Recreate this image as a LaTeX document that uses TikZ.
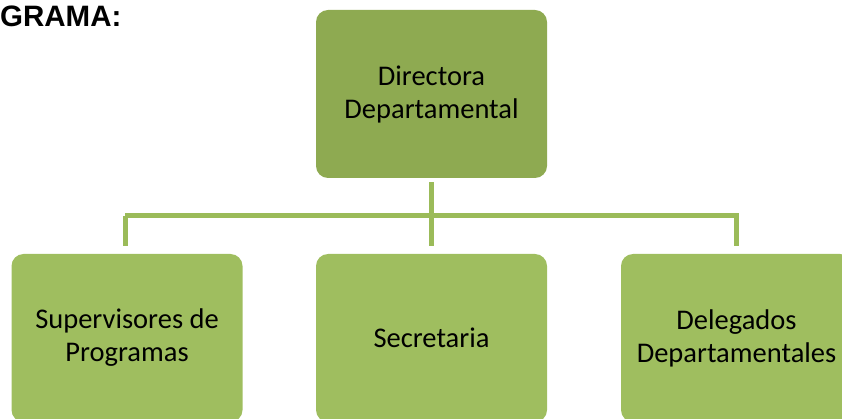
\documentclass[tikz,border=0pt]{standalone}
\usepackage{fontspec}
\setmainfont{Carlito}
\newfontfamily\titlefont{Liberation Sans}
\definecolor{topgreen}{HTML}{8EAA51}
\definecolor{boxgreen}{HTML}{9FBE5F}
\definecolor{linegreen}{HTML}{9BBB59}
\begin{document}
\begin{tikzpicture}[x=1pt,y=-1pt,
  orgbox/.style={rectangle, rounded corners=12pt, minimum width=231pt, minimum height=168pt, inner sep=0pt, align=center, font=\fontsize{28.5}{33}\selectfont, text=black},
  conn/.style={draw=linegreen, line width=5pt}]
\useasboundingbox (0,0) rectangle (842,419);
\node[anchor=base west, font=\titlefont\bfseries\fontsize{29.5}{31}\selectfont, inner sep=0pt] (title) at (0,26.5) {GRAMA:};
\node[orgbox, fill=topgreen] (dir) at (431.5,94) {Directora\\Departamental};
\node[orgbox, fill=boxgreen] (sup) at (127,338) {Supervisores de\\Programas};
\node[orgbox, fill=boxgreen] (sec) at (431.5,338) {Secretaria};
\node[orgbox, fill=boxgreen] (del) at (736.5,338) {Delegados\\Departamentales};
\coordinate (bar) at (431.5,216);
\draw[conn, shorten <=4pt] (dir.south) -- (bar);
\draw[conn] ([xshift=-2pt]sup.north |- bar) -- ([xshift=2.5pt]del.north |- bar);
\draw[conn, shorten >=8pt] ([xshift=-2pt]sup.north |- bar) -- ([xshift=-2pt]sup.north);
\draw[conn, shorten >=8pt] (bar) -- (sec.north);
\draw[conn, shorten >=8pt] ([xshift=0pt]del.north |- bar) -- (del.north);
\end{tikzpicture}
\end{document}
